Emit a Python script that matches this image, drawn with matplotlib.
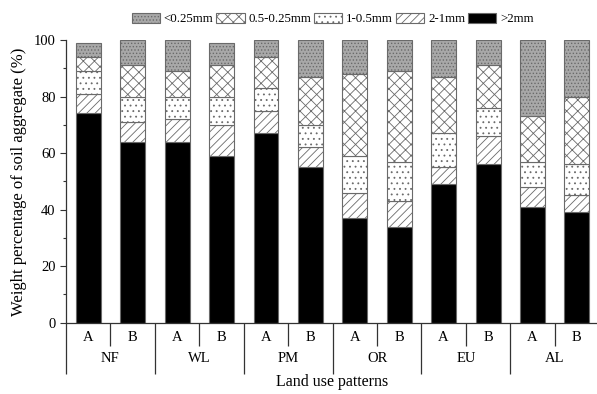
import numpy as np
import matplotlib
matplotlib.use("Agg")
import matplotlib.pyplot as plt

plt.rcParams['font.family'] = ['Liberation Serif', 'DejaVu Serif']
plt.rcParams['hatch.linewidth'] = 0.6

groups = ['NF', 'WL', 'PM', 'OR', 'EU', 'AL']
subs = ['A', 'B']
fractions = ['>2mm', '2-1mm', '1-0.5mm', '0.5-0.25mm', '<0.25mm']

# share of each size fraction (%)
gt2 = [74, 64, 64, 59, 67, 55, 37, 34, 49, 56, 41, 39]
f2_1 = [7, 7, 8, 11, 8, 7, 9, 9, 6, 10, 7, 6]
f1_05 = [8, 9, 8, 10, 8, 8, 13, 14, 12, 10, 9, 11]
f05_025 = [5, 11, 9, 11, 11, 17, 29, 32, 20, 15, 16, 24]
lt025 = [5, 9, 11, 8, 6, 13, 12, 11, 13, 9, 27, 20]

series = [gt2, f2_1, f1_05, f05_025, lt025]
faces = ['black', 'white', 'white', 'white', '#a8a8a8']
hatches = [None, '////', '...', 'xxx', '.....']

fig = plt.figure(figsize=(5.97, 3.94), dpi=100)
ax = fig.add_axes([0.1106, 0.181, 0.893, 0.7175])

x = np.arange(12) + 0.5
bottom = np.zeros(12)
handles = []
for vals, name, fc, h in zip(series, fractions, faces, hatches):
    b = ax.bar(x, vals, width=0.56, bottom=bottom, color=fc, hatch=h,
               edgecolor='#6a6a6a', linewidth=0.8, label=name)
    bottom += np.array(vals)
    handles.append(b)

ax.set_xlim(0, 12)
ax.set_ylim(0, 100)
ax.spines['top'].set_visible(False)
ax.spines['right'].set_visible(False)
for s in ['left', 'bottom']:
    ax.spines[s].set_linewidth(0.9)
    ax.spines[s].set_color('#333333')

ax.set_yticks(np.arange(0, 101, 20))
ax.set_yticks(np.arange(10, 100, 20), minor=True)
ax.tick_params(axis='y', which='major', length=4, width=0.8, labelsize=10.5, color='#333333')
ax.tick_params(axis='y', which='minor', length=2, width=0.8, color='#333333')

# A/B separators as major ticks, A/B labels as minor ticks
ax.set_xticks(np.arange(1, 12, 2))
ax.set_xticklabels([])
ax.set_xticks(x, minor=True)
ax.set_xticklabels(subs * len(groups), minor=True)
ax.tick_params(axis='x', which='major', length=16.5, width=0.9, color='#333333')
ax.tick_params(axis='x', which='minor', length=0, pad=6, labelsize=10.5)

# group separators
sec = ax.secondary_xaxis('bottom')
sec.set_xticks(np.arange(0, 13, 2))
sec.set_xticklabels([])
sec.tick_params(axis='x', length=37, width=0.9, color='#333333')
sec.spines['bottom'].set_visible(False)

for i, g in enumerate(groups):
    ax.annotate(g, xy=(2 * i + 1, 0), xycoords=('data', 'axes fraction'),
                xytext=(0, -21), textcoords='offset points',
                ha='center', va='top', fontsize=10.5)

ax.set_xlabel('Land use patterns', fontsize=11.5, labelpad=17)
ax.set_ylabel('Weight percentage of soil aggregate (%)', fontsize=12, labelpad=5)

ax.legend(handles[::-1], fractions[::-1], loc='lower center',
          bbox_to_anchor=(0.5, 1.025), ncol=5, frameon=False, fontsize=9.3,
          handlelength=2.2, handleheight=0.85, handletextpad=0.3,
          columnspacing=0.2, borderaxespad=0.2)

fig.savefig('out.png', dpi=100)
